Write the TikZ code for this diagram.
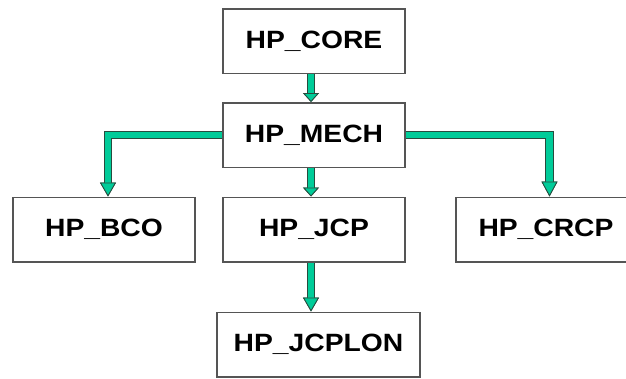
\documentclass[tikz,border=0pt]{standalone}
\usepackage{fontspec}
\setmainfont{Liberation Sans}
\newfontfamily\boxfont{Liberation Sans}[FakeStretch=1.13]
\usetikzlibrary{arrows.meta}
\definecolor{arrowteal}{RGB}{0,204,153}
\definecolor{arrowedge}{RGB}{40,75,62}
\definecolor{boxedge}{RGB}{85,85,85}
\begin{document}
\begin{tikzpicture}[x=1pt,y=-1pt,
  box/.style={draw=boxedge, line width=1.5pt, fill=white, inner sep=0pt,
    minimum height=64.5pt, font=\boxfont\bfseries\fontsize{25}{30}\selectfont},
  conntip/.style={-{Triangle[length=#1pt,width=16pt,fill=arrowteal,color=arrowedge,line width=0.8pt]}},
  conn/.style={line width=6.5pt, draw=arrowteal, line join=miter, conntip=#1,
    preaction={draw=arrowedge, line width=8.5pt, line join=miter, conntip=#1}}
]
\useasboundingbox (0,0) rectangle (626,378);
\fill[white] (0,0) rectangle (626,378);

\node[box, minimum width=182pt] (core)   at (314,41)    {HP\_CORE};
\node[box, minimum width=182pt] (mech)   at (314,135)   {HP\_MECH};
\node[box, minimum width=182pt] (bco)    at (104,229.5) {HP\_BCO};
\node[box, minimum width=182pt] (jcp)    at (314,229.5) {HP\_JCP};
\node[box, minimum width=180pt] (crcp)   at (546,229.5) {HP\_CRCP};
\node[box, minimum width=203pt] (jcplon) at (318.5,344.5) {HP\_JCPLON};

\coordinate (ax) at (311,0);
\coordinate (lx) at (108,0);
\coordinate (rx) at (549.5,0);

\draw[conn=9]  (core.south -| ax) -- (mech.north -| ax);
\draw[conn=9]  (mech.south -| ax) -- (jcp.north -| ax);
\draw[conn=14] (jcp.south -| ax) -- (jcplon.north -| ax);
\draw[conn=14] (mech.west) -- (mech.west -| lx) -- (bco.north -| lx);
\draw[conn=15] (mech.east) -- (mech.east -| rx) -- (crcp.north -| rx);
\end{tikzpicture}
\end{document}
